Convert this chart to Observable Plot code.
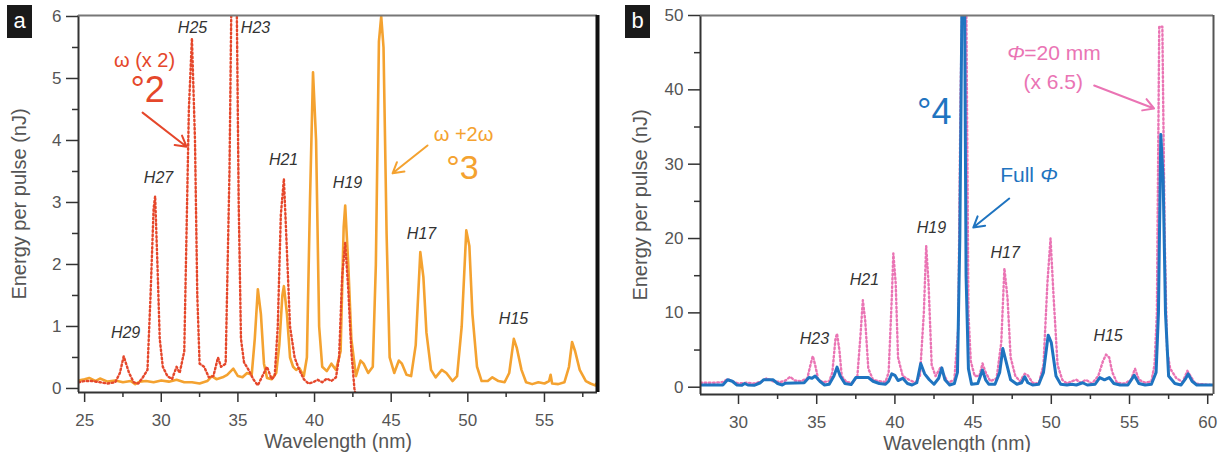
<!DOCTYPE html>
<html>
<head>
<meta charset="utf-8">
<script src="https://cdn.jsdelivr.net/npm/d3@7"></script>
<script src="https://cdn.jsdelivr.net/npm/@observablehq/plot@0.6"></script>
<style>
  html, body { margin: 0; padding: 0; background: #fff; }
  #wrap { position: relative; width: 1226px; height: 452px; display: flex; font-family: "Liberation Sans", Arial, Helvetica, sans-serif; }
  .tag { position: absolute; top: 5px; width: 25px; height: 33px; background: #1a1a1a; color: #fff;
         font-size: 22px; line-height: 31px; text-align: center; font-family: "Liberation Sans", Arial, sans-serif; }
</style>
</head>
<body>
<div id="wrap">
  <div id="pa"></div>
  <div id="pb"></div>
  <div class="tag" style="left:7px">a</div>
  <div class="tag" style="left:625px">b</div>
</div>
<script>
// ---------------- DATA ----------------
// Panel a: ω + 2ω (solid orange)
const aOrangeWave = [24.6,25.0,25.3,25.7,26.0,26.5,27.0,27.5,28.0,28.3,28.6,29.0,29.5,30.0,30.5,31.0,31.5,32.0,32.5,33.0,33.3,33.6,34.0,34.3,34.7,35.0,35.3,35.6,35.9,36.1,36.3,36.5,36.7,36.9,37.2,37.5,37.7,37.9,38.0,38.2,38.4,38.6,38.8,39.0,39.3,39.5,39.7,39.9,40.1,40.3,40.5,40.8,41.1,41.4,41.7,41.9,42.0,42.2,42.4,42.7,43.0,43.2,43.5,43.8,44.0,44.2,44.35,44.5,44.7,44.9,45.2,45.5,45.7,46.0,46.3,46.6,46.9,47.1,47.3,47.6,47.9,48.3,48.6,49.0,49.3,49.6,49.9,50.1,50.3,50.6,50.9,51.3,51.6,52.0,52.4,52.7,53.0,53.2,53.5,53.8,54.2,54.6,55.0,55.3,55.4,55.5,55.9,56.3,56.6,56.8,57.0,57.3,57.7,58.0,58.3,58.46];
const aOrangeEnergy = [0.13,0.15,0.17,0.12,0.16,0.11,0.13,0.10,0.12,0.07,0.11,0.12,0.10,0.13,0.11,0.14,0.10,0.10,0.08,0.12,0.20,0.15,0.18,0.22,0.32,0.20,0.18,0.25,0.22,0.8,1.6,1.2,0.4,0.17,0.15,0.25,0.7,1.5,1.65,1.2,0.5,0.35,0.30,0.33,0.20,0.5,3.0,5.1,4.0,1.0,0.35,0.28,0.40,0.30,0.6,2.6,2.95,2.0,0.8,0.2,0.45,0.40,0.25,0.35,2.0,5.6,6.0,5.5,2.5,0.5,0.25,0.45,0.40,0.22,0.20,0.7,2.2,1.8,0.9,0.3,0.18,0.30,0.25,0.12,0.20,1.0,2.55,2.3,1.2,0.35,0.12,0.12,0.18,0.12,0.10,0.25,0.8,0.65,0.30,0.10,0.07,0.10,0.08,0.12,0.22,0.08,0.07,0.10,0.35,0.75,0.6,0.3,0.12,0.08,0.05,0.10];
// Panel a: ω (x 2) (dotted red)
const aRedWave = [24.6,25.0,25.5,26.0,26.5,27.0,27.3,27.55,27.9,28.2,28.5,28.8,29.1,29.3,29.5,29.6,29.75,29.9,30.1,30.4,30.7,31.0,31.2,31.5,31.8,32.0,32.2,32.35,32.5,32.8,33.1,33.4,33.7,33.9,34.2,34.45,34.6,34.9,35.05,35.2,35.4,35.7,36.0,36.3,36.6,36.9,37.2,37.4,37.6,37.8,38.0,38.15,38.4,38.7,39.0,39.3,39.6,39.9,40.2,40.5,40.8,41.1,41.4,41.6,41.8,42.0,42.2,42.4,42.6,42.75];
const aRedEnergy = [0.10,0.12,0.12,0.10,0.08,0.10,0.25,0.52,0.25,0.10,0.08,0.18,0.30,1.5,2.9,3.1,2.0,0.8,0.35,0.20,0.15,0.35,0.25,0.6,4.5,5.65,4.0,1.5,0.40,0.35,0.18,0.20,0.50,0.35,0.40,3.5,6.8,6.8,3.0,0.8,0.42,0.30,0.15,0.05,0.20,0.35,0.15,0.20,1.0,2.8,3.38,2.5,1.0,0.5,0.3,0.15,0.08,0.10,0.14,0.10,0.16,0.12,0.18,0.5,1.8,2.35,1.6,0.6,0.0,-0.2];
const aHarmonics = ["H29","H27","H25","H23","H21","H19","H17","H15"];
const aXTicks = [25,30,35,40,45,50,55];
const aXMinor = [27.5,32.5,37.5,42.5,47.5,52.5,57.5];
const aYTicks = [0,1,2,3,4,5,6];
const aYMinor = [0.5,1.5,2.5,3.5,4.5,5.5];

// Panel b: Full Φ (solid blue)
const bBlueWave = [27.57,29.0,29.3,29.6,29.9,30.2,30.4,30.6,31.0,31.4,31.6,32.2,32.5,32.8,33.0,34.2,34.5,34.7,34.9,35.2,35.5,35.8,36.1,36.3,36.5,36.8,37.2,37.5,38.3,38.6,39.0,39.4,39.6,39.8,40.0,40.2,40.5,40.8,41.1,41.4,41.65,41.9,42.2,42.5,42.8,43.0,43.2,43.5,43.8,44.0,44.15,44.3,44.45,44.55,44.7,44.9,45.3,45.6,45.8,46.0,46.4,46.7,46.9,47.1,47.4,47.8,48.1,48.3,48.5,48.8,49.2,49.5,49.8,50.0,50.3,50.6,51.0,51.3,51.6,52.0,52.3,52.8,53.1,53.4,53.7,54.0,54.4,54.9,55.3,55.6,56.0,56.4,56.7,56.85,57.0,57.15,57.3,57.5,57.9,58.3,58.6,58.75,59.0,59.3,60.37];
const bBlueEnergy = [0.3,0.3,1.0,0.8,0.3,0.25,0.5,0.3,0.25,0.6,1.0,1.0,0.5,0.3,0.55,0.6,1.3,1.2,1.5,0.8,0.3,0.4,1.5,2.7,1.5,0.5,0.35,1.3,1.3,0.8,0.5,0.4,0.8,1.8,1.6,0.9,1.2,0.5,0.3,0.6,3.2,1.8,1.0,0.4,1.2,2.6,1.0,0.3,0.5,2.0,20,55,55,15,2.5,0.4,0.5,2.3,1.0,0.4,0.4,2.0,5.2,3.5,1.0,0.4,0.6,1.4,0.6,0.3,0.4,2.0,7.0,6.0,1.5,0.4,0.3,0.4,0.3,0.6,0.3,0.4,1.3,1.0,1.3,0.5,0.3,0.3,1.6,0.5,0.3,0.4,2.0,10,34,28,10,1.5,0.5,0.3,1.2,1.8,0.8,0.3,0.3];
// Panel b: Φ = 20 mm (x 6.5) (dotted pink)
const bPinkWave = [27.57,28.5,29.0,29.3,29.6,30.0,30.5,31.0,31.5,31.8,32.2,32.7,33.0,33.3,33.6,34.0,34.4,34.6,34.75,34.9,35.1,35.4,35.8,36.0,36.2,36.3,36.45,36.6,36.9,37.3,37.6,37.8,37.95,38.1,38.3,38.6,39.0,39.4,39.6,39.8,39.9,40.05,40.2,40.5,40.9,41.3,41.6,41.85,42.0,42.15,42.35,42.6,42.9,43.1,43.4,43.8,44.05,44.2,44.35,44.55,44.7,44.85,45.1,45.4,45.6,45.8,46.1,46.5,46.8,47.0,47.2,47.4,47.7,48.0,48.3,48.5,48.8,49.2,49.5,49.75,49.95,50.15,50.4,50.7,51.0,51.3,51.6,51.9,52.2,52.6,53.0,53.3,53.5,53.7,53.9,54.2,54.7,55.1,55.35,55.6,56.0,56.4,56.6,56.75,56.9,57.1,57.25,57.4,57.6,58.0,58.4,58.7,58.9,59.2,59.6,60.37];
const bPinkEnergy = [0.6,0.6,0.7,1.1,0.8,0.5,0.6,0.5,0.8,1.2,0.8,0.7,0.9,1.4,0.9,0.8,1.2,3.0,4.2,3.0,1.0,0.7,0.8,2.0,6.5,7.2,5.0,1.5,0.7,0.6,1.5,7.0,11.7,9.0,2.5,1.0,0.8,0.7,2.0,12,18,14,4.0,1.5,1.0,0.6,1.5,10,19,14,3.0,1.5,2.6,1.8,0.6,1.0,8,40,56,56,10,3.5,1.5,1.5,3.2,2.0,0.8,1.2,6,16,12,4,1.5,0.8,1.8,1.6,0.6,0.5,3.0,14,20,12,3.0,1.0,0.5,0.8,1.0,0.6,1.0,0.5,1.5,3.5,4.4,4.0,2.0,0.6,0.5,1.0,2.5,1.0,0.6,0.8,3.0,10,48.5,48.5,20,5,2.5,1.2,0.7,2.2,1.5,0.5,0.4,0.3];
const bHarmonics = ["H23","H21","H19","H17","H15"];
const bXTicks = [30,35,40,45,50,55,60];
const bXMinor = [32.5,37.5,42.5,47.5,52.5,57.5];
const bYTicks = [0,10,20,30,40,50];
const bYMinor = [5,15,25,35,45];

// ---------------- STYLE / LAYOUT ----------------
const FONT = '"Liberation Sans", Arial, Helvetica, sans-serif';
const ORANGE = "#f4a230", RED = "#e5472b", BLUE = "#1f74c0", PINK = "#ea74b4";
const AXIS = "#333", TICKTXT = "#555";
const fmt = d => String(d);

function axes(xT, xM, yT, yM, xd, yd, ylabDx) {
  return [
    Plot.axisX(xT, {anchor: "bottom", tickSize: 10, tickPadding: 11, fontSize: 17, label: null, tickFormat: fmt, stroke: AXIS, strokeWidth: 1.5, fill: TICKTXT}),
    Plot.axisX(xM, {anchor: "bottom", tickSize: 5, tickFormat: () => "", label: null, stroke: AXIS, strokeWidth: 1.5}),
    Plot.axisY(yT, {anchor: "left", tickSize: 12, tickPadding: 5, fontSize: 17, label: null, tickFormat: fmt, stroke: AXIS, strokeWidth: 1.5, fill: TICKTXT}),
    Plot.axisY(yM, {anchor: "left", tickSize: 6, tickFormat: () => "", label: null, stroke: AXIS, strokeWidth: 1.5}),
    Plot.ruleX([xd[0]], {stroke: AXIS, strokeWidth: 2}),
    Plot.ruleY([yd[0]], {stroke: AXIS, strokeWidth: 2}),
    Plot.ruleY([yd[1]], {stroke: "#777", strokeWidth: 2}),
    Plot.text(["Wavelength (nm)"], {frameAnchor: "bottom", dy: 49, fontSize: 19.5, fill: TICKTXT, lineAnchor: "middle"}),
    Plot.text(["Energy per pulse (nJ)"], {frameAnchor: "left", dx: ylabDx, rotate: -90, textAnchor: "middle", lineAnchor: "middle", fontSize: 20, fill: TICKTXT}),
  ];
}

// ---------------- PANEL A ----------------
const axd = [24.6, 58.46], ayd = [-0.065, 6.016];
const aLabelPos = [[27.67,0.89],[29.82,3.40],[32.04,5.82],[36.15,5.82],[37.98,3.68],[42.15,3.32],[46.98,2.50],[52.98,1.13]];
const chartA = Plot.plot({
  width: 613, height: 452,
  marginLeft: 78, marginRight: 16, marginTop: 15, marginBottom: 60,
  x: {domain: axd}, y: {domain: ayd},
  style: {fontFamily: FONT, background: "transparent", overflow: "visible"},
  marks: [
    Plot.line(aOrangeEnergy, {x: aOrangeWave, y: aOrangeEnergy, stroke: ORANGE, strokeWidth: 2.6, strokeLinejoin: "round", clip: true}),
    Plot.line(aRedEnergy, {x: aRedWave, y: aRedEnergy, stroke: RED, strokeWidth: 2.4, strokeDasharray: "1.6,2.6", clip: true}),
    ...axes(aXTicks, aXMinor, aYTicks, aYMinor, axd, ayd, -59),
    Plot.ruleX([axd[1]], {stroke: "#111", strokeWidth: 4}),
    Plot.text(aHarmonics, {x: aLabelPos.map(d => d[0]), y: aLabelPos.map(d => d[1]), fontSize: 16, fontStyle: "italic", fill: "#333"}),
    Plot.text(["ω (x 2)"], {x: [28.91], y: [5.29], fontSize: 20, fill: RED}),
    Plot.text(["°2"], {x: [29.11], y: [4.81], fontSize: 36, fill: RED}),
    Plot.arrow([0], {x1: 28.78, y1: 4.45, x2: 31.65, y2: 3.90, stroke: RED, strokeWidth: 2, headLength: 9}),
    Plot.text(["ω +2ω"], {x: [49.72], y: [4.09], fontSize: 20, fill: ORANGE}),
    Plot.text(["°3"], {x: [49.65], y: [3.56], fontSize: 34, fill: ORANGE}),
    Plot.arrow([0], {x1: 47.37, y1: 3.92, x2: 45.09, y2: 3.47, stroke: ORANGE, strokeWidth: 2, headLength: 9}),
  ]
});
document.getElementById("pa").append(chartA);

// ---------------- PANEL B ----------------
const bxd = [27.57, 60.37], byd = [-0.98, 50];
const bLabelPos = [[34.85,6.55],[38.05,14.49],[42.33,21.48],[47.05,18.12],[53.63,6.95]];
const chartB = Plot.plot({
  width: 613, height: 452,
  marginLeft: 87, marginRight: 13, marginTop: 15, marginBottom: 58,
  x: {domain: bxd}, y: {domain: byd},
  style: {fontFamily: FONT, background: "transparent", overflow: "visible"},
  marks: [
    Plot.line(bPinkEnergy, {x: bPinkWave, y: bPinkEnergy, stroke: PINK, strokeWidth: 2.4, strokeDasharray: "1.6,2.6", clip: true}),
    Plot.line(bBlueEnergy, {x: bBlueWave, y: bBlueEnergy, stroke: BLUE, strokeWidth: 3, strokeLinejoin: "round", clip: true}),
    ...axes(bXTicks, bXMinor, bYTicks, bYMinor, bxd, byd, -60),
    Plot.ruleX([bxd[1]], {stroke: "#555", strokeWidth: 2}),
    Plot.text(bHarmonics, {x: bLabelPos.map(d => d[0]), y: bLabelPos.map(d => d[1]), fontSize: 16, fontStyle: "italic", fill: "#333"}),
    Plot.text(["°4"], {x: [42.52], y: [36.95], fontSize: 36, fill: BLUE}),
    Plot.text(["Full"], {x: [48.52], y: [28.48], dx: -28, textAnchor: "start", fontSize: 21, fill: BLUE}),
    Plot.text(["Φ"], {x: [48.52], y: [28.48], dx: 12, textAnchor: "start", fontSize: 21, fontStyle: "italic", fill: BLUE}),
    Plot.arrow([0], {x1: 47.31, y1: 25.38, x2: 45.01, y2: 21.48, stroke: BLUE, strokeWidth: 2, headLength: 9}),
    Plot.text(["Φ"], {x: [50.12], y: [44.9], dx: -46, textAnchor: "start", fontSize: 21, fontStyle: "italic", fill: PINK}),
    Plot.text(["=20 mm"], {x: [50.12], y: [44.9], dx: -29, textAnchor: "start", fontSize: 21, fill: PINK}),
    Plot.text(["(x 6.5)"], {x: [50.12], y: [40.98], fontSize: 21, fill: PINK}),
    Plot.arrow([0], {x1: 52.74, y1: 40.58, x2: 56.57, y2: 37.49, stroke: PINK, strokeWidth: 2, headLength: 9}),
  ]
});
document.getElementById("pb").append(chartB);
</script>
</body>
</html>
